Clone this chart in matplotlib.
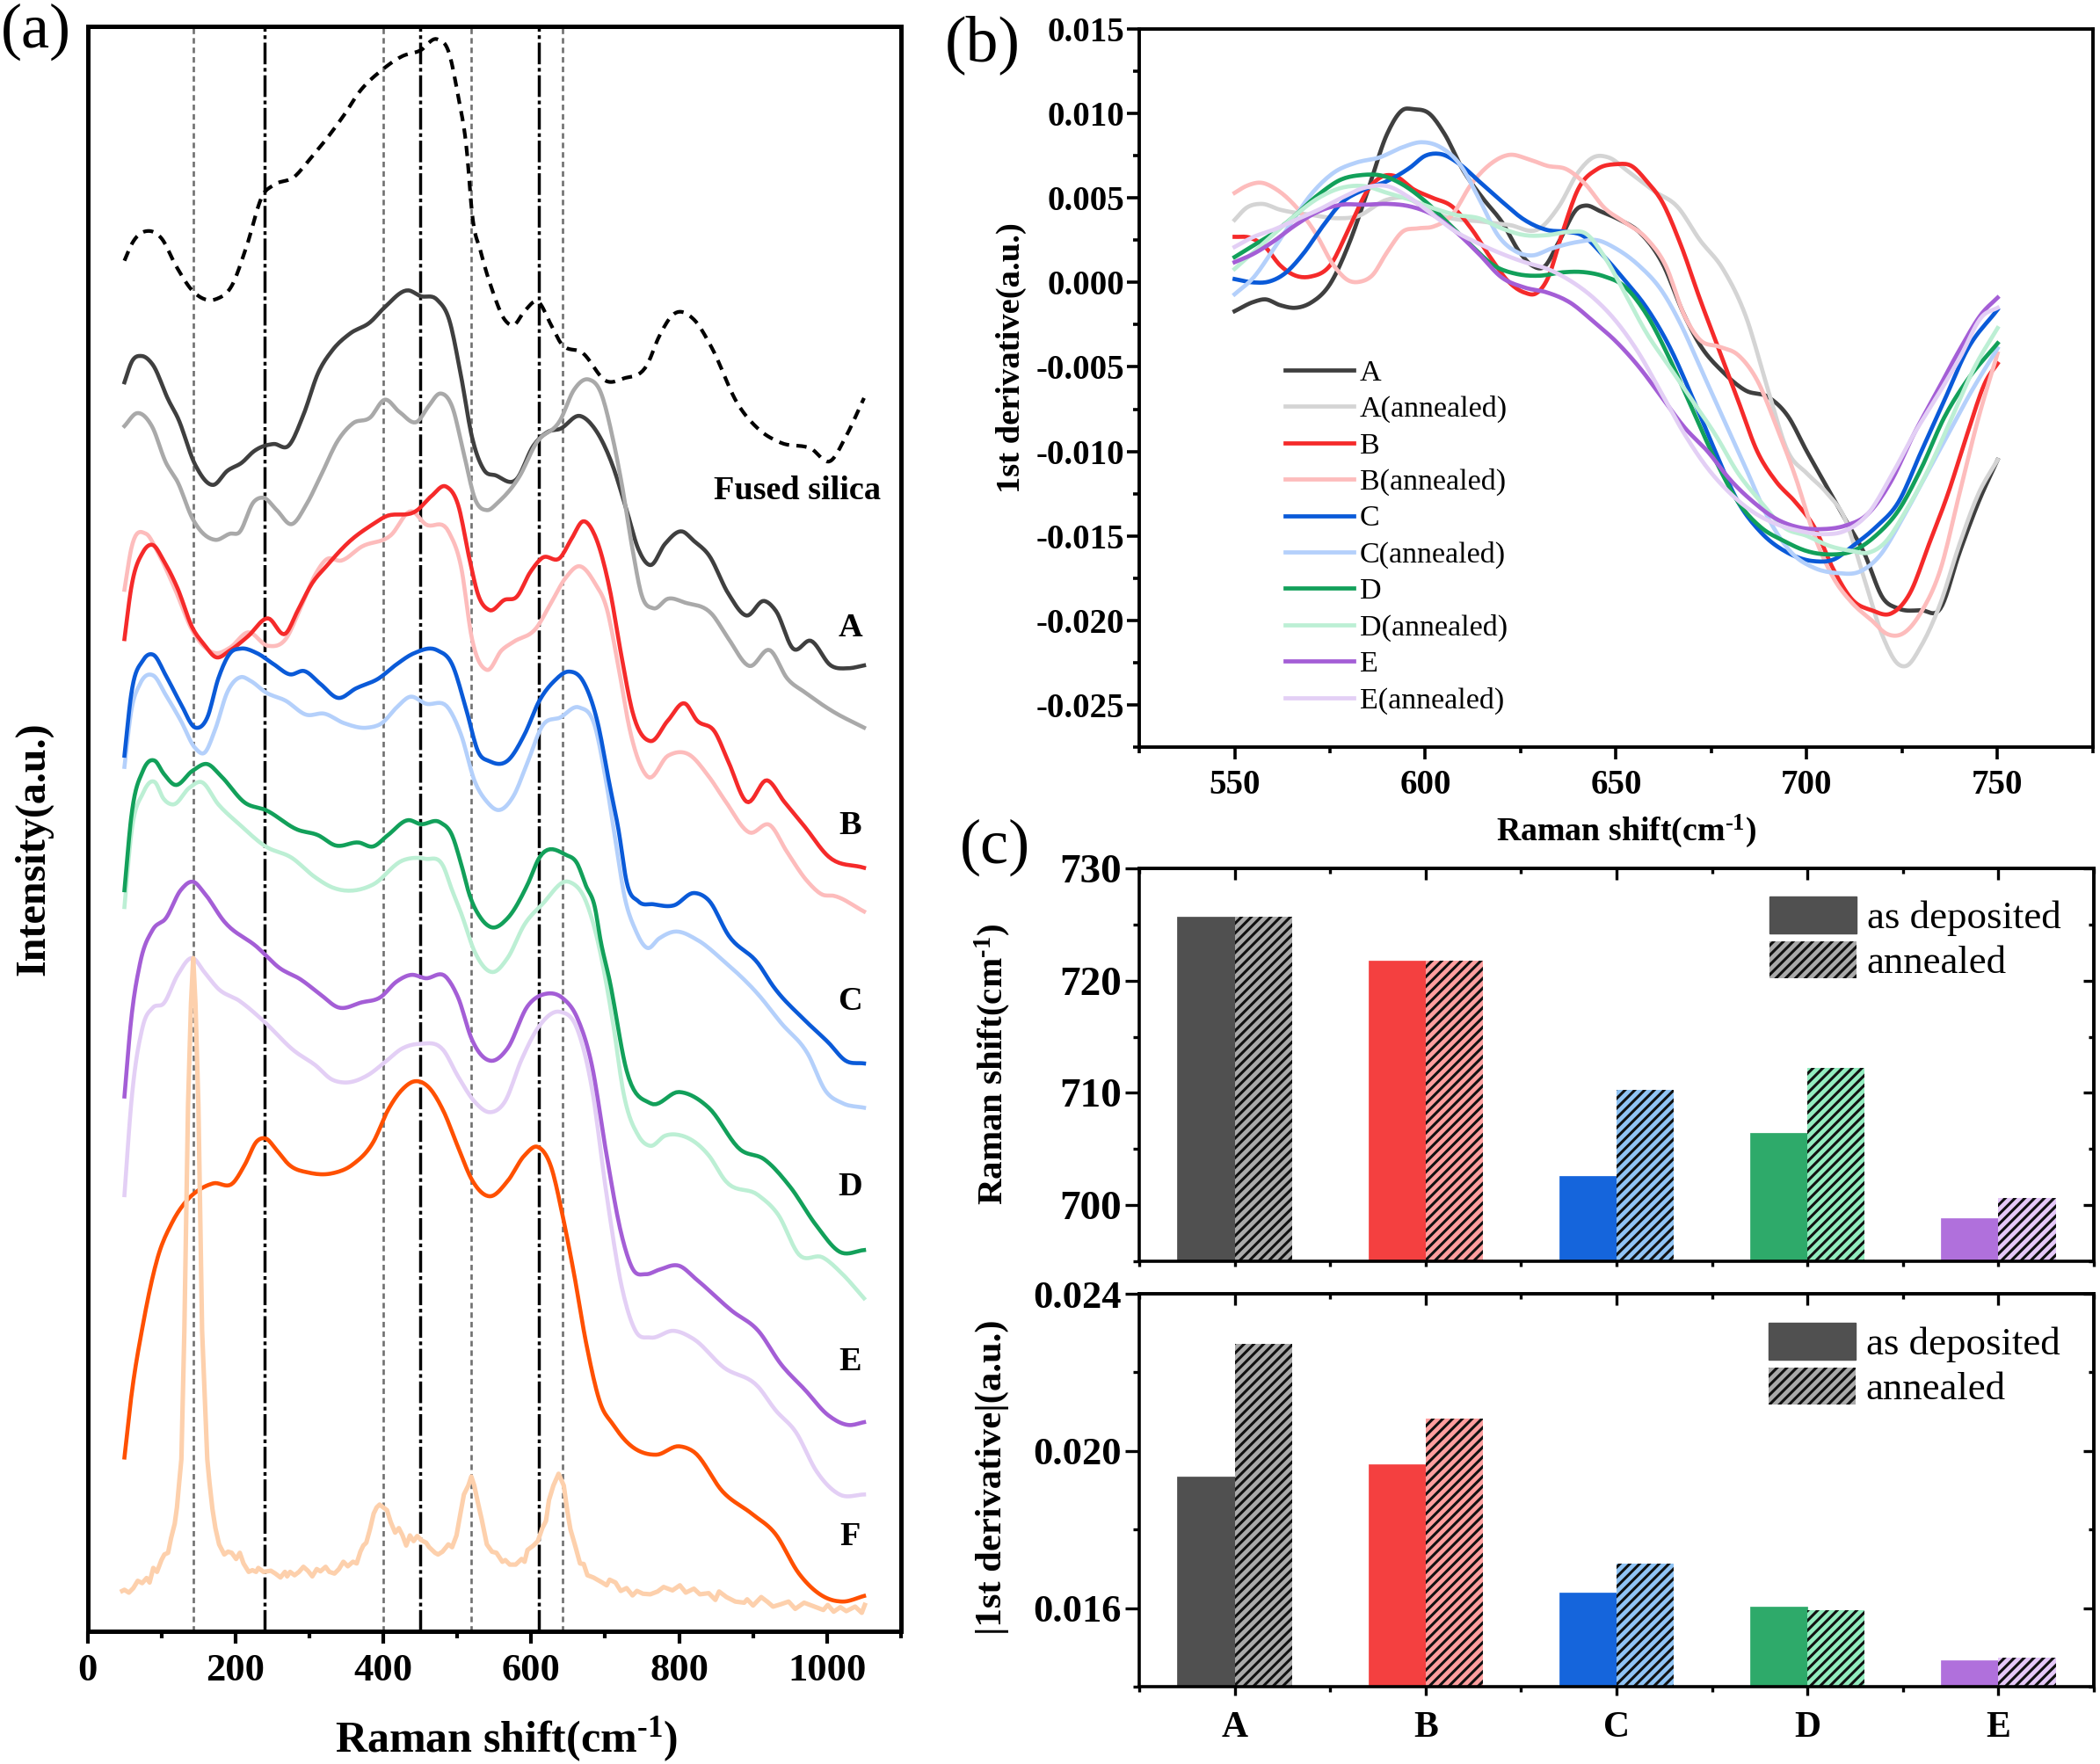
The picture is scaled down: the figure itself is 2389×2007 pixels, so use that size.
import numpy as np
import matplotlib
matplotlib.use("Agg")
import matplotlib.pyplot as plt
from matplotlib.patches import Patch
from matplotlib.ticker import MultipleLocator, FuncFormatter

plt.rcParams['font.family'] = ['Liberation Serif', 'DejaVu Serif']
plt.rcParams['axes.unicode_minus'] = False
plt.rcParams['mathtext.fontset'] = 'custom'
plt.rcParams['mathtext.rm'] = 'Liberation Serif:bold'
plt.rcParams['mathtext.bf'] = 'Liberation Serif:bold'
plt.rcParams['mathtext.default'] = 'regular'
plt.rcParams['hatch.linewidth'] = 2.2

W, H = 2389, 2007
DPI = 100

# ---------- panel (a): Raman spectra, arbitrary intensity units ----------
silica_x = [50,60,83,100,120,143,175,195,215,237,252,280,300,347,367,398,426,450,473,489,501,513,520,532,548,564,576,591,609,627,639,670,702,725,757,773,793,820,844,879,907,938,978,1005,1025,1050]
silica_y = [2445,2475,2498,2485,2435,2390,2377,2400,2470,2562,2580,2595,2625,2705,2745,2785,2810,2820,2840,2815,2740,2640,2530,2460,2390,2340,2330,2355,2372,2330,2300,2280,2230,2235,2260,2310,2350,2340,2290,2190,2145,2120,2110,2088,2130,2200]

a_x = [50,60,73,88,110,122,146,170,189,209,225,252,272,292,312,331,355,382,402,434,450,473,489,505,520,536,552,580,603,623,639,666,686,710,729,745,761,781,804,820,840,867,891,915,931,954,978,1005,1029,1050]
a_y = [2228,2265,2275,2260,2195,2165,2080,2045,2070,2085,2105,2118,2115,2170,2245,2285,2315,2335,2362,2392,2382,2375,2340,2240,2130,2072,2062,2055,2115,2140,2145,2168,2145,2080,2000,1930,1902,1940,1962,1945,1920,1850,1812,1838,1820,1753,1767,1723,1718,1723]

a_ann_x = [50,67,87,106,122,142,173,193,205,225,238,256,276,296,315,339,359,382,402,422,446,461,477,493,509,524,540,556,584,607,639,658,678,694,710,722,737,749,765,785,808,844,867,895,923,946,970,1009,1050]
a_ann_y = [2150,2173,2150,2085,2050,1985,1947,1958,1960,2015,2022,2000,1975,2010,2060,2125,2155,2165,2197,2175,2158,2185,2208,2185,2100,2020,2000,2015,2060,2120,2160,2215,2233,2210,2130,2050,1930,1850,1825,1842,1835,1815,1770,1722,1750,1700,1675,1640,1612]

b_x = [50,59,75,88,103,122,142,158,173,193,217,244,268,284,304,323,355,386,402,446,465,485,501,517,528,543,564,580,599,615,639,655,670,686,706,722,737,761,785,808,824,848,867,891,919,942,970,1002,1050]
b_y = [1770,1860,1925,1938,1910,1860,1790,1760,1738,1750,1775,1807,1780,1820,1870,1900,1945,1975,1988,2000,2025,2042,2010,1910,1850,1822,1840,1845,1890,1915,1915,1950,1980,1955,1860,1740,1640,1588,1625,1655,1625,1605,1550,1480,1518,1480,1435,1382,1362]

b_ann_x = [50,59,79,95,118,142,173,193,217,244,268,288,308,323,343,371,410,438,457,489,505,520,540,560,576,607,627,647,665,686,702,718,733,757,785,812,840,863,895,923,946,974,994,1009,1050]
b_ann_y = [1858,1930,1958,1925,1860,1785,1745,1755,1782,1758,1770,1825,1885,1912,1910,1935,1955,1998,1975,1960,1900,1770,1715,1750,1765,1790,1835,1880,1900,1870,1825,1720,1610,1525,1562,1565,1525,1480,1425,1438,1390,1337,1314,1312,1284]

c_x = [50,59,75,89,106,126,146,162,177,193,207,229,252,274,293,315,339,363,394,418,442,473,493,513,528,544,568,591,611,631,651,670,690,706,718,729,745,765,793,820,840,867,907,927,970,1002,1025,1050]
c_y = [1562,1670,1732,1742,1705,1655,1612,1630,1700,1745,1753,1745,1725,1707,1713,1690,1665,1682,1700,1725,1745,1750,1725,1640,1570,1552,1553,1600,1660,1695,1712,1695,1620,1510,1430,1337,1302,1297,1295,1317,1304,1241,1191,1151,1090,1050,1018,1013]

c_ann_x = [50,59,71,89,106,126,146,158,173,189,207,221,241,268,296,320,347,379,398,418,436,457,489,505,524,540,556,576,595,615,639,665,686,702,714,726,741,757,773,793,825,860,907,938,974,998,1021,1050]
c_ann_y = [1542,1640,1690,1705,1670,1625,1575,1567,1610,1675,1702,1695,1675,1660,1635,1637,1620,1612,1620,1648,1667,1655,1645,1600,1515,1480,1465,1490,1550,1615,1630,1648,1615,1510,1410,1312,1251,1219,1236,1248,1233,1196,1136,1085,1030,964,942,934]

d_x = [50,59,75,91,103,118,142,162,181,213,241,284,312,335,367,386,406,434,450,477,493,505,517,532,546,568,595,611,647,662,674,686,694,706,729,761,800,840,883,915,950,986,1017,1050]
d_y = [1322,1450,1535,1553,1530,1510,1535,1547,1525,1478,1465,1430,1420,1402,1407,1400,1420,1447,1440,1443,1420,1370,1312,1272,1256,1272,1332,1380,1385,1370,1330,1292,1231,1161,1000,942,962,934,859,842,793,723,677,680]

d_ann_x = [50,59,75,91,103,116,138,154,177,205,241,276,308,331,386,426,457,481,493,505,524,548,568,591,615,651,674,690,710,725,745,761,781,804,840,863,907,934,962,994,1021,1050]
d_ann_y = [1292,1420,1495,1515,1485,1475,1505,1515,1475,1440,1400,1380,1345,1327,1332,1375,1378,1365,1322,1282,1211,1176,1201,1261,1297,1337,1302,1231,1090,959,884,866,884,884,849,803,778,743,672,667,637,594]

e_x = [50,59,71,88,106,126,143,158,185,229,260,288,315,339,371,396,418,438,457,485,501,520,544,568,595,619,643,662,682,702,722,737,755,773,800,824,871,907,938,970,1002,1029,1050]
e_y = [954,1090,1191,1251,1272,1322,1337,1317,1266,1221,1183,1163,1136,1113,1122,1131,1159,1171,1165,1167,1131,1055,1018,1040,1115,1137,1129,1095,1010,849,708,647,637,645,652,627,572,536,476,431,385,368,373]

e_ann_x = [50,59,75,88,103,122,142,158,177,205,237,280,308,331,347,379,402,426,450,481,501,524,544,564,587,611,639,662,682,702,722,741,761,793,820,860,907,930,958,986,1017,1050]
e_ann_y = [778,939,1080,1112,1120,1171,1201,1176,1146,1125,1090,1035,1010,984,979,992,1015,1040,1048,1037,990,944,926,944,1020,1080,1105,1075,969,778,617,536,524,536,521,471,436,395,355,285,244,244]

f_x = [50,59,75,95,114,134,154,170,197,213,229,241,256,272,300,331,359,387,406,426,442,461,481,501,520,544,568,591,609,627,643,658,674,694,710,729,769,800,820,859,899,930,962,994,1021,1050]
f_y = [310,416,547,667,728,768,790,799,800,833,874,879,858,833,818,817,833,874,929,967,981,971,929,864,805,776,803,849,864,828,738,637,516,405,370,338,315,330,320,249,209,174,103,63,53,63]

f_ann_x = [47,50,56,62,68,74,80,84,89,94,100,104,109,113,118,121,124,127,131,136,140,143,146,150,155,162,165,169,173,178,185,190,195,201,206,211,218,223,228,231,238,248,254,261,267,270,274,280,286,292,298,304,310,315,322,327,334,340,346,352,359,364,369,373,377,382,387,391,395,400,405,410,416,421,426,431,436,441,446,452,458,462,470,474,480,488,493,499,504,509,515,519,523,528,533,540,547,553,561,565,571,579,587,591,595,603,609,615,620,624,630,637,644,649,653,660,666,671,676,684,696,702,706,714,721,729,737,743,751,761,771,779,791,801,809,820,828,840,849,854,864,876,888,892,900,911,919,927,937,948,957,969,979,995,1001,1009,1018,1026,1038,1047,1051]
f_ann_y = [72,74,69,77,90,86,95,87,113,106,127,137,140,166,192,221,265,307,536,939,1120,1201,1120,939,536,307,265,218,184,155,137,142,140,129,140,121,106,109,106,113,106,108,103,96,106,98,106,100,106,115,108,98,111,107,115,106,103,111,124,116,124,121,142,153,158,182,210,221,226,221,216,195,176,184,171,153,171,161,170,162,158,150,140,137,142,155,150,171,208,244,260,276,260,229,200,155,142,140,124,127,119,119,129,124,145,153,161,184,197,234,260,281,260,213,182,150,121,120,100,96,87,82,92,87,72,77,64,72,67,66,71,79,73,82,69,76,66,68,56,71,61,53,51,57,46,61,53,44,48,53,40,51,46,38,47,35,43,36,44,33,47]

dotted_positions = [143, 400, 519, 642]
dashdot_positions = [240, 450, 610]
sample_label_x = 1031
sample_labels = ['A', 'B', 'C', 'D', 'E', 'F']
sample_label_y = [1790, 1437, 1124, 792, 481, 169]

# ---------- panel (b): first derivative ----------
ba_x = [550,555,558,562,566,570,575,580,585,590,594,597,601,605,610,615,620,625,628,631,635,640,642,646,651,656,662,668,672,678,684,690,695,700,705,710,715,720,724,730,735,740,745,750]
ba_y = [-1.7,-1.15,-1.0,-1.35,-1.5,-1.2,-0.1,2.3,5.5,8.8,10.2,10.25,10.0,8.8,6.6,5.0,3.6,1.7,1.0,0.9,2.4,4.4,4.55,4.2,3.7,3.0,1.2,-2,-3.7,-5.3,-6.4,-6.8,-7.9,-10,-12,-14,-16,-18.7,-19.3,-19.4,-19.3,-16,-13,-10.5]
baa_x = [550,553,557,562,570,577,582,590,595,600,605,615,622,630,635,640,644,648,653,660,666,672,678,684,690,695,700,705,710,715,720,724,726,730,735,740,745,750]
baa_y = [3.7,4.4,4.65,4.3,4.0,3.8,3.9,4.9,5.0,4.4,3.9,3.6,3.4,3.2,4.5,6.5,7.4,7.4,6.6,5.4,4.5,2.5,0.8,-2,-6.5,-10,-11.3,-12.4,-14,-17.5,-21,-22.6,-22.7,-21.5,-19,-15.5,-12.5,-10.5]
bb_x = [550,554,558,562,566,570,575,580,585,589,592,597,602,607,612,617,622,626,629,632,636,640,645,650,654,658,662,667,672,677,682,687,692,697,702,707,712,717,722,727,732,737,742,747,750]
bb_y = [2.7,2.65,2.1,1.0,0.4,0.35,1.0,3.2,5.5,6.3,6.3,5.5,5.0,4.5,3.2,1.5,0.0,-0.6,-0.65,0.2,3.0,5.5,6.7,7.0,6.9,6.0,4.8,2.2,-1,-4,-7,-10,-11.8,-13,-14.5,-17,-18.8,-19.4,-19.6,-18.4,-15.5,-12.5,-9,-5.8,-4.8]
bba_x = [550,553,557,561,566,571,576,580,583,586,590,594,598,602,607,612,617,622,627,632,637,642,647,652,658,663,668,672,677,682,687,692,697,702,707,712,717,721,725,730,735,740,745,750]
bba_y = [5.3,5.7,5.9,5.5,4.5,3.0,1.0,0.1,0.05,0.4,1.8,3.0,3.2,3.3,4.0,5.8,7.0,7.55,7.3,6.9,6.7,5.8,4.4,3.6,2.6,1.0,-2,-3.4,-3.8,-4.3,-5.8,-8.5,-11.5,-15,-17.5,-19,-20,-20.8,-20.8,-19.5,-17,-12.5,-8,-4.2]
bc_x = [550,555,559,563,568,573,578,584,590,596,600,604,609,614,620,626,632,637,641,647,652,658,664,670,676,682,688,695,702,707,712,718,724,730,736,742,750]
bc_y = [0.2,0,0.05,0.5,1.7,3.3,4.7,5.5,6.0,6.8,7.5,7.6,7.0,6.0,4.8,3.7,3.1,3.0,2.8,1.5,0.2,-1.5,-3.8,-6.8,-10,-13,-14.8,-16,-16.5,-16.4,-15.6,-14.5,-13,-10,-7,-4,-1.6]
bca_x = [550,555,560,565,570,576,582,588,594,599,604,609,614,619,624,628,633,640,645,650,656,662,667,672,678,684,690,696,702,708,714,719,725,731,737,743,750]
bca_y = [-0.7,0.3,1.9,3.6,5.2,6.5,7.1,7.4,8.0,8.3,8.0,7.0,5.0,2.8,1.8,1.6,2.0,2.4,2.5,2.0,1.0,-0.5,-2.5,-5,-8,-11,-14,-16,-16.9,-17.2,-17.1,-16.2,-14,-11.5,-9,-6.5,-3.9]
bd_x = [550,555,560,565,572,578,583,589,594,600,606,612,618,624,630,636,642,647,652,658,664,670,676,682,688,694,700,706,712,718,724,730,736,742,750]
bd_y = [1.5,2.2,2.9,3.8,5.2,6.1,6.35,6.3,5.8,4.8,3.5,2.2,1.0,0.5,0.4,0.6,0.6,0.35,-0.2,-1.9,-4.5,-7.5,-10.5,-13,-14.5,-15.3,-15.9,-16.1,-15.9,-15,-13.5,-11,-8,-5.8,-3.6]
bda_x = [550,555,560,566,572,578,584,590,596,602,608,614,620,626,632,638,642,647,652,658,664,670,676,682,688,694,700,706,712,716,720,726,732,738,744,750]
bda_y = [0.8,1.8,2.8,4.0,5.0,5.6,5.7,5.3,4.9,4.4,4.0,3.8,3.2,2.8,2.8,3.0,2.9,1.5,-0.5,-3,-5,-7,-9,-11.3,-13,-14.5,-15,-15.6,-15.9,-16,-15.5,-13.5,-11,-8,-5,-2.7]
be_x = [550,555,560,566,572,578,584,590,596,602,608,614,620,626,632,638,644,650,656,662,668,674,680,686,692,698,704,710,716,722,728,734,740,746,750]
be_y = [1.2,1.7,2.4,3.4,4.2,4.6,4.6,4.65,4.5,4.0,3.0,1.7,0.3,-0.3,-0.6,-1.2,-2.3,-3.5,-5,-6.8,-8.6,-10,-11.7,-13,-14,-14.5,-14.6,-14.4,-13.7,-11.8,-9,-6.5,-4,-1.8,-0.9]
bea_x = [550,555,560,566,572,578,584,590,596,602,608,614,620,626,632,638,644,650,656,662,668,674,680,686,692,698,704,710,716,722,728,734,740,746,750]
bea_y = [2.1,2.7,3.1,3.7,4.3,5.0,5.6,5.7,5.0,4.0,3.0,2.3,1.7,1.2,0.8,0.1,-0.9,-2.3,-4.2,-6.6,-9,-11,-12.5,-13.6,-14.3,-14.7,-14.9,-14.7,-13.7,-11.5,-9,-6.8,-4.5,-2,-1.5]

# ---------- panel (c): bars ----------
bar_categories = ['A', 'B', 'C', 'D', 'E']
shift_deposited = [725.7, 721.8, 702.6, 706.4, 698.8]
shift_annealed = [725.7, 721.8, 710.3, 712.2, 700.6]
deriv_deposited = [0.01935, 0.01965, 0.0164, 0.01603, 0.01466]
deriv_annealed = [0.02272, 0.02082, 0.01714, 0.01595, 0.01474]

C_DEP = ['#505050', '#f44040', '#1565dc', '#2eaa6a', '#b070dc']
C_ANN = ['#aaaaaa', '#ff9f9f', '#90c4f5', '#93ecbf', '#e5c8f8']
CA, CAA = '#3f3f3f', '#a9a9a9'
CB, CBA = '#f52a2a', '#fdbcbc'
CC, CCA = '#0a5ad8', '#b4d0fb'
CD, CDA = '#12a05a', '#bcefd4'
CE, CEA = '#a45ed6', '#e3cff5'
CF, CFA = '#ff5000', '#fdd0ac'

SHIFT_LABEL = r'Raman shift(cm$^{\text{-1}}$)'


def smooth_line(xs, ys, per_segment=10):
    """Curve through the read values, as the spline line of the original plot."""
    x, y = np.asarray(xs, float), np.asarray(ys, float)
    slope = np.gradient(y, x)
    out_x, out_y = [x[0]], [y[0]]
    for i in range(len(x) - 1):
        dx = x[i + 1] - x[i]
        for t in np.linspace(0, 1, per_segment + 1)[1:]:
            h00 = 2 * t**3 - 3 * t**2 + 1
            h10 = t**3 - 2 * t**2 + t
            h01 = -2 * t**3 + 3 * t**2
            h11 = t**3 - t**2
            out_x.append(x[i] + t * dx)
            out_y.append(h00 * y[i] + h10 * dx * slope[i] + h01 * y[i + 1] + h11 * dx * slope[i + 1])
    return out_x, out_y


def axes_px(fig, left, top, right, bottom):
    return fig.add_axes([left / W, 1 - bottom / H, (right - left) / W, (bottom - top) / H])


def fx(x):
    return x / W


def fy(y):
    return 1 - y / H


def set_label_px(axis, x, y):
    axis.set_label_coords(fx(x), fy(y), transform=fig.transFigure)


def bold_ticks(ax):
    for t in ax.get_xticklabels() + ax.get_yticklabels():
        t.set_fontweight('bold')


derivative_fmt = FuncFormatter(lambda v, p: '%.3f' % (0.0 if abs(v) < 1e-9 else v))

fig = plt.figure(figsize=(W / DPI, H / DPI), dpi=DPI, facecolor='white')

# ----- (a) -----
axa = axes_px(fig, 99.5, 30, 1025, 1856)
for s in axa.spines.values():
    s.set_linewidth(3.6)
for p in dotted_positions:
    axa.axvline(p, color='#707070', lw=1.9, ls=(0, (2.4, 1.7)), zorder=1)
for p in dashdot_positions:
    axa.axvline(p, color='black', lw=2.5, ls=(0, (7.1, 1.2, 1.2, 1.2)), zorder=1)
LW = 3.3
axa.plot(*smooth_line(silica_x, silica_y), color='black', lw=3.0, ls=(0, (2.8, 2.0)), zorder=2)
for xs, ys, c in [(a_x, a_y, CA), (a_ann_x, a_ann_y, CAA), (b_ann_x, b_ann_y, CBA), (b_x, b_y, CB),
                  (c_ann_x, c_ann_y, CCA), (c_x, c_y, CC), (d_ann_x, d_ann_y, CDA), (d_x, d_y, CD),
                  (e_ann_x, e_ann_y, CEA), (e_x, e_y, CE), (f_x, f_y, CF)]:
    axa.plot(*smooth_line(xs, ys), color=c, lw=LW, solid_joinstyle='round', zorder=3)
axa.plot(f_ann_x, f_ann_y, color=CFA, lw=3.7, solid_joinstyle='round', zorder=3)
axa.set_xlim(0, 1100)
axa.set_ylim(0, 2863)
axa.set_yticks([])
axa.xaxis.set_major_locator(MultipleLocator(200))
axa.xaxis.set_minor_locator(MultipleLocator(100))
axa.tick_params(axis='x', which='major', length=10, width=3, labelsize=32, pad=8)
axa.tick_params(axis='x', which='minor', length=6, width=3)
bold_ticks(axa)
for name, ly in zip(sample_labels, sample_label_y):
    axa.text(sample_label_x, ly, name, fontsize=27.5, fontweight='bold', ha='center', va='center', zorder=5)
axa.text(960, 2035, 'Fused silica', fontsize=27.5, fontweight='bold', ha='center', va='center', zorder=5)
axa.set_xlabel(SHIFT_LABEL, fontsize=36, fontweight='bold', va='center')
set_label_px(axa.xaxis, 576, 1979)
axa.set_ylabel('Intensity(a.u.)', fontsize=34.7, fontweight='bold', va='center')
set_label_px(axa.yaxis, 38, 966)

# ----- (b) -----
axb = axes_px(fig, 1296, 33, 2381, 850)
for s in axb.spines.values():
    s.set_linewidth(2.8)
series_b = [(ba_x, ba_y, CA, 'A'), (baa_x, baa_y, '#d4d4d4', 'A(annealed)'),
            (bb_x, bb_y, CB, 'B'), (bba_x, bba_y, CBA, 'B(annealed)'),
            (bc_x, bc_y, CC, 'C'), (bca_x, bca_y, CCA, 'C(annealed)'),
            (bd_x, bd_y, CD, 'D'), (bda_x, bda_y, CDA, 'D(annealed)'),
            (be_x, be_y, CE, 'E'), (bea_x, bea_y, CEA, 'E(annealed)')]
for xs, ys, c, lab in series_b:
    sx, sy = smooth_line(xs, ys)
    axb.plot(sx, [v * 1e-3 for v in sy], color=c, lw=3.4, label=lab, solid_joinstyle='round')
axb.set_xlim(525, 775)
axb.set_ylim(-0.0275, 0.015)
axb.xaxis.set_major_locator(MultipleLocator(50))
axb.xaxis.set_minor_locator(MultipleLocator(25))
axb.yaxis.set_major_locator(MultipleLocator(0.005))
axb.yaxis.set_minor_locator(MultipleLocator(0.0025))
axb.yaxis.set_major_formatter(derivative_fmt)
axb.tick_params(axis='both', which='major', length=10, width=2.6, labelsize=28)
axb.tick_params(axis='x', which='major', pad=8)
axb.tick_params(axis='y', which='major', pad=2)
axb.tick_params(axis='both', which='minor', length=5, width=2.6)
bold_ticks(axb)
axb.set_xlabel(SHIFT_LABEL, fontsize=27.3, fontweight='bold', va='center')
set_label_px(axb.xaxis, 1850, 946)
axb.set_ylabel('1st derivative(a.u.)', fontsize=27.7, fontweight='bold', va='center')
set_label_px(axb.yaxis, 1150, 407)
axb.legend(loc='upper left', bbox_to_anchor=(fx(1462), fy(409)), bbox_transform=fig.transFigure,
           frameon=False, fontsize=24.5, handlelength=2.28, handletextpad=0.22, labelspacing=0.305,
           borderpad=0, borderaxespad=0)


# ----- (c) -----
def draw_bars(ax, dep, ann, x_major, x_minor):
    w = 0.3
    for i in range(len(bar_categories)):
        ax.bar(i - w / 2, dep[i], width=w, color=C_DEP[i], edgecolor=C_DEP[i], linewidth=0.5, zorder=2)
        ax.bar(i + w / 2, ann[i], width=w, facecolor=C_ANN[i], edgecolor='#111111', hatch='///', linewidth=0, zorder=2)
    ax.set_xlim(-0.5, 4.5)
    ax.set_xticks(range(len(bar_categories)))
    ax.set_xticklabels(bar_categories)
    ax.xaxis.set_minor_locator(MultipleLocator(0.5))
    for s in ax.spines.values():
        s.set_linewidth(2.6)
    ax.tick_params(axis='y', which='major', length=11.5, width=2.4, labelsize=34, pad=3)
    ax.tick_params(axis='y', which='minor', length=5, width=2.4)
    ax.tick_params(axis='x', which='major', length=x_major, width=2.4, labelsize=30, pad=13)
    ax.tick_params(axis='x', which='minor', length=x_minor, width=2.4)
    top = ax.secondary_xaxis('top')
    top.set_xticks(range(len(bar_categories)))
    top.xaxis.set_minor_locator(MultipleLocator(0.5))
    top.tick_params(axis='x', which='major', direction='in', length=9, width=2.4, labeltop=False)
    top.tick_params(axis='x', which='minor', direction='in', length=4, width=2.4)
    top.spines['top'].set_linewidth(2.6)
    right = ax.secondary_yaxis('right')
    right.spines['right'].set_linewidth(2.6)
    handles = [Patch(facecolor='#505050', edgecolor='#505050', label='as deposited'),
               Patch(facecolor='#aaaaaa', edgecolor='#111111', hatch='///', linewidth=0, label='annealed')]
    return handles, right


def finish_right(ax, right, major, minor):
    ax.yaxis.set_major_locator(MultipleLocator(major))
    ax.yaxis.set_minor_locator(MultipleLocator(minor))
    right.yaxis.set_major_locator(MultipleLocator(major))
    right.yaxis.set_minor_locator(MultipleLocator(minor))
    right.tick_params(axis='y', which='major', direction='in', length=9, width=2.4, labelright=False)
    right.tick_params(axis='y', which='minor', direction='in', length=4, width=2.4)


LEG = dict(frameon=False, fontsize=32.3, handlelength=2.2, handleheight=1.05, handletextpad=0.27,
           labelspacing=0.13, borderpad=0, borderaxespad=0, bbox_transform=fig.transFigure, loc='upper left')

axc1 = axes_px(fig, 1296, 988, 2382, 1435)
h, r = draw_bars(axc1, shift_deposited, shift_annealed, 4.5, 4)
axc1.set_ylim(695, 730)
finish_right(axc1, r, 10, 5)
axc1.tick_params(axis='x', labelbottom=False)
bold_ticks(axc1)
axc1.set_ylabel(SHIFT_LABEL, fontsize=29.5, fontweight='bold', va='center')
set_label_px(axc1.yaxis, 1129, 1211)
axc1.legend(handles=h, bbox_to_anchor=(fx(2013), fy(1020)), **LEG)

axc2 = axes_px(fig, 1296, 1472, 2382, 1919)
h, r = draw_bars(axc2, deriv_deposited, deriv_annealed, 7, 4.5)
axc2.set_ylim(0.014, 0.024)
finish_right(axc2, r, 0.004, 0.002)
axc2.yaxis.set_major_formatter(derivative_fmt)
axc2.tick_params(axis='y', which='major', labelsize=32)
bold_ticks(axc2)
axc2.set_ylabel('|1st derivative|(a.u.)', fontsize=30.7, fontweight='bold', va='center')
set_label_px(axc2.yaxis, 1129, 1681)
axc2.legend(handles=h, bbox_to_anchor=(fx(2012), fy(1505)), **LEG)

# panel letters
fig.text(fx(41), fy(36), '(a)', fontsize=52, ha='center', va='center')
fig.text(fx(1118), fy(51), '(b)', fontsize=53, ha='center', va='center')
fig.text(fx(1132), fy(964), '(c)', fontsize=52, ha='center', va='center')

fig.savefig('out.png', dpi=DPI, facecolor='white')
